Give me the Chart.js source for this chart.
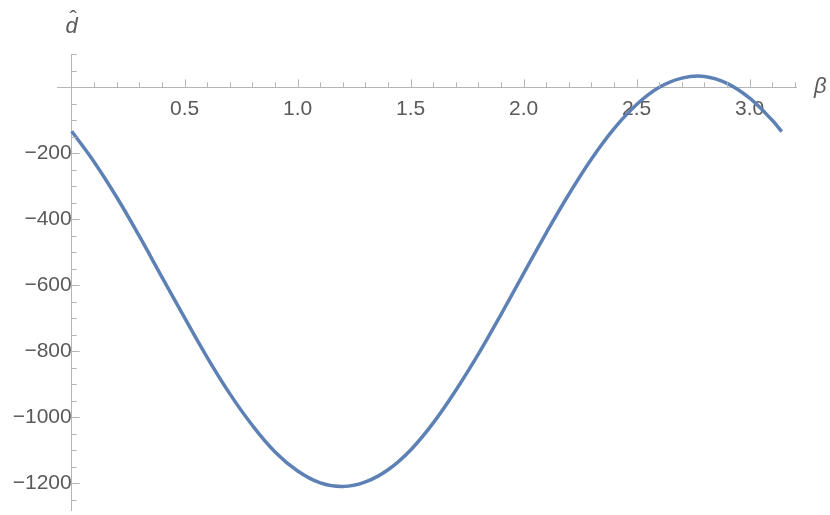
<!DOCTYPE html>
<html>
<head>
<meta charset="utf-8">
<script src="https://cdn.jsdelivr.net/npm/chart.js@4.4.1/dist/chart.umd.min.js"></script>
<style>
    html, body { margin: 0; padding: 0; background: #ffffff; }
    #wrap { width: 830px; height: 515px; }
</style>
</head>
<body>
<div id="wrap"><canvas id="plot" width="830" height="515"></canvas></div>
<script>
// Curve (beta in radians, d-hat values)
const betaValues = [0, 0.1, 0.2, 0.3, 0.4, 0.5, 0.6, 0.7, 0.8, 0.9, 1.0, 1.1, 1.2, 1.3, 1.4, 1.5,
    1.6, 1.7, 1.8, 1.9, 2.0, 2.1, 2.2, 2.3, 2.4, 2.5, 2.6, 2.7, 2.8, 2.9, 3.0, 3.1, 3.1416];
const dValues = [-133, -227, -334, -452, -576, -699, -819, -929, -1025, -1105, -1163, -1199,
    -1210, -1196, -1159, -1099, -1017, -918, -808, -688, -564, -441, -324, -217, -125, -52,
    0, 28, 33, 12, -33, -100, -134];

// Tick labels
const xTicks = [0.5, 1.0, 1.5, 2.0, 2.5, 3.0];
const yTicks = [-1200, -1000, -800, -600, -400, -200];

const axisColor = '#b5b5b5';
const labelColor = '#5a5a5a';
const fontFamily = '"Liberation Sans", Arial, sans-serif';

// axes sit inside the plot, so they should not eat layout space
function noSpace(scale) {
    if (scale.isHorizontal()) scale.height = 0; else scale.width = 0;
    scale.paddingTop = 0;
    scale.paddingBottom = 0;
    scale.paddingLeft = 0;
    scale.paddingRight = 0;
}

// Mathematica-style inward ticks plus the axis names
const axisDecor = {
    id: 'axisDecor',
    afterDraw(chart) {
        const ctx = chart.ctx;
        const xs = chart.scales.x;
        const ys = chart.scales.y;
        const x0 = xs.getPixelForValue(0);
        const y0 = ys.getPixelForValue(0);
        ctx.save();
        ctx.strokeStyle = axisColor;
        ctx.lineWidth = 1;
        ctx.beginPath();
        for (let i = 1; i <= 32; i++) {
            const px = Math.round(xs.getPixelForValue(i / 10)) + 0.5;
            const len = i % 5 === 0 ? 8 : 5;
            ctx.moveTo(px, y0);
            ctx.lineTo(px, y0 - len);
        }
        for (let v = -1250; v <= 100; v += 50) {
            if (v === 0) continue;
            const py = Math.round(ys.getPixelForValue(v)) + 0.5;
            const len = v % 200 === 0 ? 8 : 5;
            ctx.moveTo(x0, py);
            ctx.lineTo(x0 + len, py);
        }
        ctx.stroke();

        ctx.fillStyle = labelColor;
        ctx.font = 'italic 22px ' + fontFamily;
        ctx.textAlign = 'center';
        ctx.textBaseline = 'alphabetic';
        ctx.fillText('d', x0, 33);
        ctx.font = '22px ' + fontFamily;
        ctx.fillText('\u02c6', x0 + 1.5, 26);
        ctx.font = 'italic 22px ' + fontFamily;
        ctx.textAlign = 'left';
        ctx.textBaseline = 'middle';
        ctx.fillText('\u03b2', xs.right + 18, y0);
        ctx.restore();
    }
};

function renderPlot() {
    const ctx = document.getElementById('plot').getContext('2d');
    const points = betaValues.map((b, i) => ({ x: b, y: dValues[i] }));

    new Chart(ctx, {
        type: 'line',
        data: {
            datasets: [{
                data: points,
                borderColor: '#5e81b5',
                borderWidth: 3.5,
                pointRadius: 0,
                fill: false,
                tension: 0.4
            }]
        },
        options: {
            responsive: false,
            animation: false,
            layout: {
                padding: { left: 57, right: 34, top: 54, bottom: 5 }
            },
            plugins: {
                legend: { display: false },
                tooltip: { enabled: false }
            },
            scales: {
                x: {
                    type: 'linear',
                    position: { y: 0 },
                    min: -0.065,
                    max: 3.205,
                    afterFit: noSpace,
                    afterBuildTicks: scale => { scale.ticks = xTicks.map(v => ({ value: v })); },
                    grid: { display: false, drawTicks: false },
                    border: { display: true, color: axisColor, width: 1 },
                    ticks: {
                        color: labelColor,
                        padding: 9,
                        maxRotation: 0,
                        font: { family: fontFamily, size: 21 },
                        callback: v => v.toFixed(1)
                    }
                },
                y: {
                    type: 'linear',
                    position: { x: 0 },
                    min: -1281,
                    max: 101,
                    afterFit: noSpace,
                    afterBuildTicks: scale => { scale.ticks = yTicks.map(v => ({ value: v })); },
                    grid: { display: false, drawTicks: false },
                    border: { display: true, color: axisColor, width: 1 },
                    ticks: {
                        color: labelColor,
                        padding: 8,
                        font: { family: fontFamily, size: 21 },
                        callback: v => '\u2212' + Math.abs(v)
                    }
                }
            }
        },
        plugins: [axisDecor]
    });
}

document.addEventListener('DOMContentLoaded', renderPlot);
</script>
</body>
</html>
